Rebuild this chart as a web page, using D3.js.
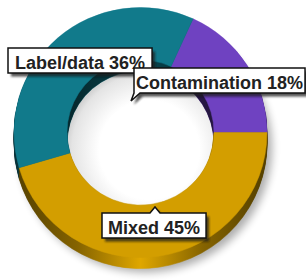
<!DOCTYPE html>
<html><head><meta charset="utf-8">
<script src="https://cdn.jsdelivr.net/npm/d3@7"></script>
<style>html,body{margin:0;padding:0;background:#fff;}svg{display:block;}</style>
</head><body>
<svg id="c" width="306" height="280"></svg>
<script>
// ---- data ----
const categories = ["Contamination", "Mixed", "Label/data"];
const values = [18, 45, 36];
const pctLabels = ["18%", "45%", "36%"];
const colors = ["#6f42c1", "#d39e00", "#117a8b"];

// ---- layout ----
const W = 306, H = 280;
const cx = 140.5, cy = 132.5, rx = 126.5, ry = 125, rIn = 73.5, depth = 11;
const sy = ry / rx;
const labelLayout = [
  {x: 134, y: 68, pad: 2, ptr: "bl", tip: [131, 101]},
  {x: 102, y: 213, pad: 6, ptr: "top", base: 155, tip: [155, 207]},
  {x: 8, y: 48, pad: 7, ptr: "br", base: 140, tip: [147, 82]}
];

const svg = d3.select("#c");
const defs = svg.append("defs");

const startA = Math.PI / 2 - 2 * Math.PI * values[0] / d3.sum(values);
const pie = d3.pie().sort(null).value(d => d)
  .startAngle(startA).endAngle(startA + 2 * Math.PI);
const arcs = pie(values);
const arc = d3.arc().innerRadius(rIn).outerRadius(rx);

// filters
const blur = defs.append("filter").attr("id", "blur").attr("x", "-20%").attr("y", "-20%").attr("width", "140%").attr("height", "140%");
blur.append("feGaussianBlur").attr("stdDeviation", 4.5);
const blur2 = defs.append("filter").attr("id", "blur2").attr("x", "-10%").attr("y", "-30%").attr("width", "120%").attr("height", "160%");
blur2.append("feGaussianBlur").attr("stdDeviation", 0.8);

// side gradients
colors.forEach((c, i) => {
  const g = defs.append("linearGradient").attr("id", "side" + i)
    .attr("gradientUnits", "userSpaceOnUse").attr("x1", -rx).attr("x2", rx).attr("y1", 0).attr("y2", 0);
  const base = d3.color(c);
  g.append("stop").attr("offset", 0).attr("stop-color", base.darker(2.6));
  g.append("stop").attr("offset", 0.25).attr("stop-color", base.darker(1.3));
  g.append("stop").attr("offset", 0.5).attr("stop-color", base.brighter(0.15));
  g.append("stop").attr("offset", 0.75).attr("stop-color", base.darker(1.3));
  g.append("stop").attr("offset", 1).attr("stop-color", base.darker(2.6));
});
// hole gradient
const hg = defs.append("radialGradient").attr("id", "hole").attr("cx", 0.56).attr("cy", 0.62).attr("r", 0.62);
hg.append("stop").attr("offset", 0.55).attr("stop-color", "#ffffff");
hg.append("stop").attr("offset", 0.85).attr("stop-color", "#e4e4e4");
hg.append("stop").attr("offset", 1).attr("stop-color", "#b8b8b8");

defs.append("clipPath").attr("id", "upper").append("rect")
  .attr("x", 0).attr("y", 0).attr("width", W).attr("height", cy);

// drop shadow of donut
svg.append("ellipse").attr("cx", cx + 5).attr("cy", cy + depth + 4)
  .attr("rx", rx).attr("ry", ry).attr("fill", "#000").attr("opacity", 0.32)
  .attr("filter", "url(#blur)");

// hole interior
svg.append("ellipse").attr("cx", cx).attr("cy", cy).attr("rx", rIn).attr("ry", rIn * sy)
  .attr("fill", "url(#hole)");

// extruded sides
const ks = d3.range(depth, 0, -1);
const side = svg.append("g");
ks.forEach(k => {
  side.append("g").attr("transform", `translate(${cx},${cy + k}) scale(1,${sy})`)
    .selectAll("path").data(arcs).join("path")
    .attr("d", arc).attr("fill", (d, i) => `url(#side${i})`)
    .attr("stroke", (d, i) => `url(#side${i})`).attr("stroke-width", 0.6);
});
const dark = svg.append("g").attr("clip-path", "url(#upper)").attr("opacity", 0.45);
ks.forEach(k => {
  dark.append("g").attr("transform", `translate(${cx},${cy + k}) scale(1,${sy})`)
    .selectAll("path").data(arcs).join("path")
    .attr("d", arc).attr("fill", "#000");
});

// top face
svg.append("g").attr("transform", `translate(${cx},${cy}) scale(1,${sy})`)
  .selectAll("path").data(arcs).join("path")
  .attr("d", arc).attr("fill", (d, i) => colors[i])
  .attr("stroke", (d, i) => colors[i]).attr("stroke-width", 0.5);

// labels (draw in order: Label/data, Mixed, Contamination on top)
const order = [2, 1, 0];
order.forEach(i => {
  const L = labelLayout[i];
  const g = svg.append("g");
  const shadow = g.append("path");
  const box = g.append("path");
  const t = g.append("text").text(categories[i] + " " + pctLabels[i])
    .attr("font-family", "'Liberation Sans', Arial, Helvetica, sans-serif")
    .attr("font-weight", "bold").attr("font-size", 18).attr("fill", "#222");
  const tw = t.node().getComputedTextLength();
  const w = tw + 2 * L.pad, h = 25;
  const x = L.x, y = L.y;
  t.attr("x", x + L.pad).attr("y", y + 20.5);
  let p;
  if (L.ptr === "bl") {
    p = `M${x},${y}H${x + w}V${y + h}H${x + 6}L${L.tip[0]},${L.tip[1]}L${x},${y + h}Z`;
  } else if (L.ptr === "top") {
    p = `M${x},${y}H${L.base - 5}L${L.tip[0]},${L.tip[1]}L${L.base + 5},${y}H${x + w}V${y + h}H${x}Z`;
  } else {
    p = `M${x},${y}H${x + w}V${y + h}H${L.base + 4}L${L.tip[0]},${L.tip[1]}L${L.base - 4},${y + h}H${x}Z`;
  }
  shadow.attr("d", p).attr("transform", "translate(3,3.5)").attr("fill", "#1a1a1a")
    .attr("opacity", 0.75).attr("filter", "url(#blur2)");
  box.attr("d", p).attr("fill", "#fff").attr("stroke", "#111").attr("stroke-width", 1.5)
    .attr("stroke-linejoin", "miter");
});
</script>
</body></html>
